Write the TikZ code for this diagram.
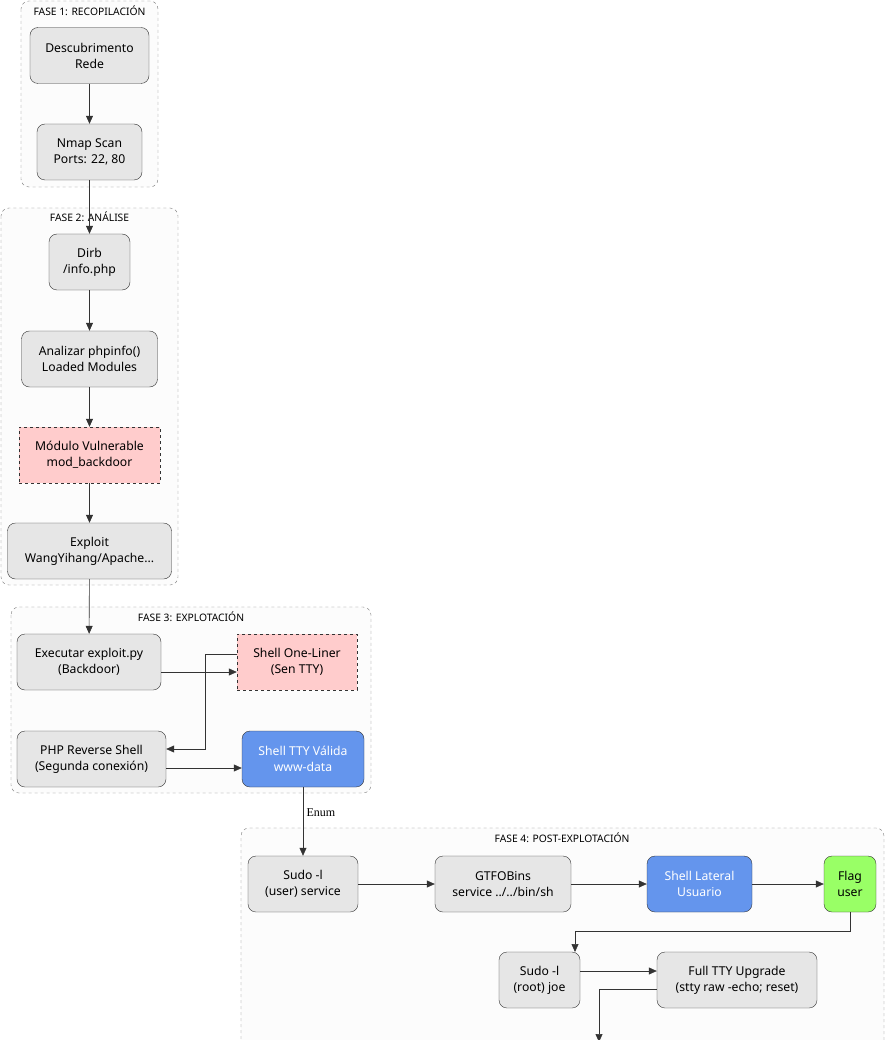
\documentclass[tikz,border=0pt]{standalone}
\usepackage{fontspec}
\setmainfont{Noto Sans}
\newfontfamily\serifenum{Liberation Serif}
\usetikzlibrary{arrows.meta}
\definecolor{gfill}{HTML}{E6E6E6}
\definecolor{pinkf}{HTML}{FFCCCC}
\definecolor{bluef}{HTML}{6495ED}
\definecolor{greenf}{HTML}{99FF66}
\definecolor{edgec}{HTML}{333333}
\definecolor{phc}{HTML}{777777}
\begin{document}
\begin{tikzpicture}[x=1pt,y=-1pt,
 phase/.style={draw=phc,dashed,fill=black!1,rounded corners=8pt},
 ptitle/.style={font=\fontsize{10.3}{12}\selectfont},
 box/.style={draw=edgec,fill=gfill,rounded corners=8pt,align=center,font=\fontsize{12.2}{16}\selectfont,minimum height=56pt,inner sep=0pt},
 vuln/.style={box,fill=pinkf,dashed,rounded corners=0pt},
 good/.style={box,fill=bluef,text=white},
 flag/.style={box,fill=greenf},
 arr/.style={draw=edgec,semithick,-{Triangle[length=8pt,width=7pt]}}]
\useasboundingbox (0,0) rectangle (885,1040);
\draw[phase] (21,1) rectangle (158,187);
\node[ptitle] (t1) at (89.5,11) {FASE 1: RECOPILACIÓN};
\draw[phase] (1,208) rectangle (178,585);
\node[ptitle] (t2) at (89.5,217) {FASE 2: ANÁLISE};
\draw[phase] (11,607) rectangle (371,793);
\node[ptitle] (t3) at (191,617) {FASE 3: EXPLOTACIÓN};
\fill[black!1,rounded corners=8pt] (241,1045) -- (241,828) -- (884,828) -- (884,1045) -- cycle;
\draw[phc,dashed,rounded corners=8pt] (241,1045) -- (241,828) -- (884,828) -- (884,1045);
\node[ptitle] (t4) at (562,838) {FASE 4: POST-EXPLOTACIÓN};

\node[box,minimum width=119pt] (desc) at (89.5,55.5) {Descubrimento\\Rede};
\node[box,minimum width=105pt] (nmap) at (89.5,152) {Nmap Scan\\Ports: 22, 80};
\node[box,minimum width=81pt] (dirb) at (89.5,262) {Dirb\\/info.php};
\node[box,minimum width=136pt] (anal) at (89.5,359) {Analizar phpinfo()\\Loaded Modules};
\node[vuln,minimum width=141pt] (mod) at (89.5,455) {Módulo Vulnerable\\mod\_backdoor};
\node[box,minimum width=164pt] (expl) at (89.5,551) {Exploit\\WangYihang/Apache...};
\node[box,minimum width=144pt] (exec) at (89,662) {Executar exploit.py\\(Backdoor)};
\node[vuln,minimum width=120pt] (one) at (297,662) {Shell One-Liner\\(Sen TTY)};
\node[box,minimum width=149pt] (php) at (91.5,759) {PHP Reverse Shell\\(Segunda conexión)};
\node[good,minimum width=122pt] (tty) at (303,759) {Shell TTY Válida\\www-data};
\node[box,minimum width=110pt] (sudou) at (303,884) {Sudo -l\\(user) service};
\node[box,minimum width=136pt] (gtfo) at (503,884) {GTFOBins\\service ../../bin/sh};
\node[good,minimum width=105pt] (lat) at (699.5,884) {Shell Lateral\\Usuario};
\node[flag,minimum width=52pt] (flg) at (850,884) {Flag\\user};
\node[box,minimum width=81pt] (sudor) at (539.5,980) {Sudo -l\\(root) joe};
\node[box,minimum width=160pt] (full) at (737,980) {Full TTY Upgrade\\(stty raw -echo; reset)};
\coordinate (out) at (599,1042);

\draw[arr] (desc) -- (nmap);
\draw[arr] (nmap) -- (dirb);
\draw[arr] (dirb) -- (anal);
\draw[arr] (anal) -- (mod);
\draw[arr] (mod) -- (expl);
\draw[arr] (expl) -- (exec);
\draw[arr] ([yshift=-10pt]exec.east) -- ([yshift=-10pt]one.west);
\draw[arr] ([yshift=8pt]one.west) -- (205,654) -- (205,749) -- ([yshift=10pt]php.east);
\draw[arr] ([yshift=-9pt]php.east) -- ([yshift=-9pt]tty.west);
\draw[arr] (tty) -- node[right,font=\serifenum\fontsize{12}{13}\selectfont,pos=0.37]{Enum} (sudou);
\draw[arr] (sudou) -- (gtfo);
\draw[arr] (gtfo) -- (lat);
\draw[arr] (lat) -- (flg);
\draw[arr] (flg.south) -- (850,931) -- (575,931) -- (575,952);
\draw[arr] ([yshift=9pt]sudor.east) -- ([yshift=9pt]full.west);
\draw[arr] ([yshift=-9pt]full.west) -- (599,989) -- (out);
\end{tikzpicture}
\end{document}
